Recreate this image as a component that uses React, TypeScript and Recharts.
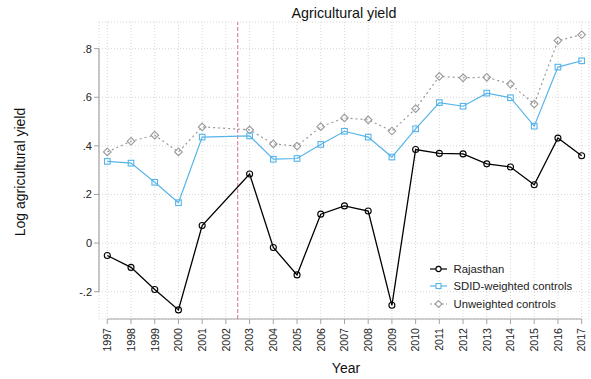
import React from "react";
import {
    LineChart,
    Line,
    XAxis,
    YAxis,
    CartesianGrid,
    ReferenceLine,
    Label,
} from "recharts";

// survey years (2002 missing from the panel)
const years = [
    1997, 1998, 1999, 2000, 2001, 2003, 2004, 2005, 2006, 2007, 2008, 2009,
    2010, 2011, 2012, 2013, 2014, 2015, 2016, 2017,
];

const rajasthan = [
    -0.051, -0.1, -0.191, -0.275, 0.072, 0.284, -0.018, -0.131, 0.119, 0.153,
    0.132, -0.256, 0.385, 0.369, 0.367, 0.326, 0.313, 0.24, 0.432, 0.359,
];

const sdidControls = [
    0.336, 0.329, 0.25, 0.166, 0.436, 0.441, 0.345, 0.348, 0.406, 0.46, 0.436,
    0.354, 0.47, 0.578, 0.563, 0.617, 0.598, 0.481, 0.724, 0.75,
];

const unweightedControls = [
    0.375, 0.419, 0.444, 0.375, 0.478, 0.466, 0.408, 0.399, 0.479, 0.515,
    0.507, 0.461, 0.553, 0.686, 0.68, 0.682, 0.654, 0.572, 0.833, 0.857,
];

const yearTicks = [
    1997, 1998, 1999, 2000, 2001, 2002, 2003, 2004, 2005, 2006, 2007, 2008,
    2009, 2010, 2011, 2012, 2013, 2014, 2015, 2016, 2017,
];
const yTicks = [-0.2, 0, 0.2, 0.4, 0.6, 0.8];

const treatmentYear = 2002.5;

const data = years.map((year, i) => ({
    year,
    rajasthan: rajasthan[i],
    sdid: sdidControls[i],
    unweighted: unweightedControls[i],
}));

const X_MIN = 1996.65;
const X_MAX = 2017.31;
const Y_MIN = -0.3124;
const Y_MAX = 0.9096;

const FONT = "'Liberation Sans', Arial, sans-serif";
const AXIS_GRAY = "#a3a3a3";
const BLUE = "#56b4e9";
const GRAY = "#9a9a9a";

const fmtY = (v: number) =>
    v === 0 ? "0" : String(Number(v.toFixed(1))).replace("0.", ".");

const CircleDot = (p: any) =>
    p.cx == null ? null : (
        <circle
            key={`c${p.index}`}
            cx={p.cx}
            cy={p.cy}
            r={3}
            fill="none"
            stroke="#000"
            strokeWidth={1.1}
        />
    );

const SquareDot = (p: any) =>
    p.cx == null ? null : (
        <rect
            key={`s${p.index}`}
            x={p.cx - 2.8}
            y={p.cy - 2.8}
            width={5.6}
            height={5.6}
            fill="none"
            stroke={BLUE}
            strokeWidth={1.1}
        />
    );

const DiamondDot = (p: any) =>
    p.cx == null ? null : (
        <polygon
            key={`d${p.index}`}
            points={`${p.cx},${p.cy - 3.8} ${p.cx + 3.8},${p.cy} ${p.cx},${p.cy + 3.8} ${p.cx - 3.8},${p.cy}`}
            fill="none"
            stroke={GRAY}
            strokeWidth={1.1}
        />
    );

const YearTick = ({ x, y, payload }: any) => (
    <text
        x={x}
        y={y}
        transform={`rotate(-90 ${x} ${y})`}
        textAnchor="end"
        dy="0.36em"
        fontSize={10.6}
        fontFamily={FONT}
        fill="#222"
    >
        {payload.value}
    </text>
);

const legendItems = [
    { label: "Rajasthan", color: "#000", dash: undefined, marker: "circle" },
    { label: "SDID-weighted controls", color: BLUE, dash: undefined, marker: "square" },
    { label: "Unweighted controls", color: GRAY, dash: "2 2", marker: "diamond" },
];

function LegendBox() {
    return (
        <div
            style={{
                position: "absolute",
                left: 430,
                top: 260,
                fontFamily: FONT,
                fontSize: 11.3,
                color: "#222",
            }}
        >
            {legendItems.map((item) => (
                <div
                    key={item.label}
                    style={{ display: "flex", alignItems: "center", height: 17.6 }}
                >
                    <svg width={17} height={10} style={{ marginRight: 6.5 }}>
                        <line
                            x1={0}
                            y1={5}
                            x2={17}
                            y2={5}
                            stroke={item.color}
                            strokeWidth={1.2}
                            strokeDasharray={item.dash}
                        />
                        {item.marker === "circle" && (
                            <circle cx={8.5} cy={5} r={2.6} fill="#fff" stroke="#000" strokeWidth={1.1} />
                        )}
                        {item.marker === "square" && (
                            <rect x={6} y={2.5} width={5} height={5} fill="#fff" stroke={BLUE} strokeWidth={1.1} />
                        )}
                        {item.marker === "diamond" && (
                            <polygon points="8.5,1.6 11.9,5 8.5,8.4 5.1,5" fill="#fff" stroke={GRAY} strokeWidth={1.1} />
                        )}
                    </svg>
                    <span>{item.label}</span>
                </div>
            ))}
        </div>
    );
}

export default function App() {
    return (
        <div
            style={{
                position: "absolute",
                left: 0,
                top: 0,
                width: 591,
                height: 379,
                background: "#fff",
            }}
        >
            <div
                style={{
                    position: "absolute",
                    left: 99,
                    top: 6,
                    width: 490,
                    textAlign: "center",
                    fontFamily: FONT,
                    fontSize: 14.3,
                    lineHeight: "14.3px",
                    color: "#111",
                }}
            >
                Agricultural yield
            </div>
            <LineChart
                width={591}
                height={379}
                data={data}
                margin={{ top: 22, right: 2, left: 0, bottom: 0 }}
            >
                <CartesianGrid
                    stroke="#d6d6d6"
                    strokeDasharray="1 2"
                    horizontal
                    vertical
                />
                <XAxis
                    dataKey="year"
                    type="number"
                    domain={[X_MIN, X_MAX]}
                    ticks={yearTicks}
                    interval={0}
                    allowDataOverflow
                    height={60}
                    axisLine={false}
                    tickLine={{ stroke: AXIS_GRAY }}
                    tickSize={5}
                    tickMargin={4}
                    tick={<YearTick />}
                >
                    <Label
                        content={() => (
                            <text
                                x={346}
                                y={373}
                                textAnchor="middle"
                                fontSize={14}
                                fontFamily={FONT}
                                fill="#111"
                            >
                                Year
                            </text>
                        )}
                    />
                </XAxis>
                <YAxis
                    type="number"
                    domain={[Y_MIN, Y_MAX]}
                    ticks={yTicks}
                    allowDataOverflow
                    width={99}
                    axisLine={false}
                    tickLine={{ stroke: AXIS_GRAY }}
                    tickSize={5}
                    tickMargin={2}
                    tickFormatter={fmtY}
                    tick={{ fontSize: 11, fontFamily: FONT, fill: "#222" }}
                >
                    <Label
                        content={() => (
                            <text
                                x={24.5}
                                y={172}
                                transform="rotate(-90 24.5 172)"
                                textAnchor="middle"
                                fontSize={14}
                                fontFamily={FONT}
                                fill="#111"
                            >
                                Log agricultural yield
                            </text>
                        )}
                    />
                </YAxis>

                {/* axis lines only span the tick range */}
                <ReferenceLine
                    segment={[
                        { x: 1997, y: Y_MIN },
                        { x: 2017, y: Y_MIN },
                    ]}
                    stroke={AXIS_GRAY}
                    strokeWidth={1.2}
                    ifOverflow="visible"
                />
                <ReferenceLine
                    segment={[
                        { x: X_MIN, y: -0.2 },
                        { x: X_MIN, y: 0.8 },
                    ]}
                    stroke={AXIS_GRAY}
                    strokeWidth={1.2}
                    ifOverflow="visible"
                />

                <ReferenceLine
                    x={treatmentYear}
                    stroke="#d3709a"
                    strokeDasharray="4 2"
                    strokeWidth={1}
                />

                <Line
                    type="linear"
                    dataKey="unweighted"
                    stroke={GRAY}
                    strokeWidth={1.2}
                    strokeDasharray="2 3"
                    dot={DiamondDot}
                    activeDot={false}
                    isAnimationActive={false}
                />
                <Line
                    type="linear"
                    dataKey="sdid"
                    stroke={BLUE}
                    strokeWidth={1.2}
                    dot={SquareDot}
                    activeDot={false}
                    isAnimationActive={false}
                />
                <Line
                    type="linear"
                    dataKey="rajasthan"
                    stroke="#000"
                    strokeWidth={1.3}
                    dot={CircleDot}
                    activeDot={false}
                    isAnimationActive={false}
                />
            </LineChart>
            <LegendBox />
        </div>
    );
}
